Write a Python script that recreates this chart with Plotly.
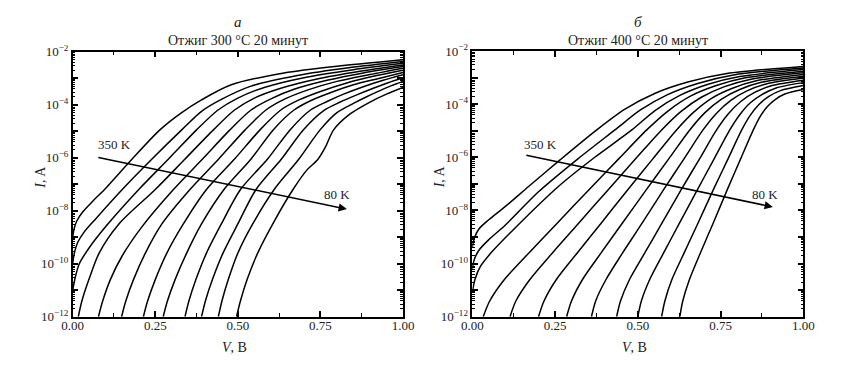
import plotly.graph_objects as go

# ---- data ----
temps = [350, 325, 300, 275, 250, 225, 200, 175, 150, 125, 100, 80]

# panel a: Отжиг 300 °C
a_voltage = [
    [0, 0.004, 0.012, 0.03, 0.06, 0.10, 0.18, 0.264, 0.33, 0.39, 0.48, 0.64, 0.82, 1.0],
    [0, 0.005, 0.015, 0.035, 0.07, 0.15, 0.24, 0.33, 0.39, 0.45, 0.54, 0.68, 0.84, 1.0],
    [0, 0.008, 0.02, 0.05, 0.1, 0.2, 0.29, 0.375, 0.44, 0.50, 0.58, 0.70, 0.85, 1.0],
    [0.017, 0.028, 0.049, 0.08, 0.14, 0.25, 0.34, 0.426, 0.49, 0.55, 0.63, 0.74, 0.87, 1.0],
    [0.078, 0.091, 0.114, 0.15, 0.21, 0.305, 0.393, 0.476, 0.54, 0.60, 0.67, 0.77, 0.88, 1.0],
    [0.148, 0.161, 0.184, 0.22, 0.27, 0.355, 0.442, 0.522, 0.585, 0.64, 0.71, 0.80, 0.90, 1.0],
    [0.214, 0.227, 0.25, 0.285, 0.335, 0.405, 0.49, 0.567, 0.63, 0.685, 0.75, 0.83, 0.91, 1.0],
    [0.274, 0.287, 0.31, 0.345, 0.39, 0.458, 0.54, 0.607, 0.67, 0.72, 0.78, 0.85, 0.93, 1.0],
    [0.34, 0.352, 0.373, 0.405, 0.45, 0.508, 0.59, 0.658, 0.72, 0.77, 0.82, 0.88, 0.94, 1.0],
    [0.39, 0.402, 0.423, 0.455, 0.50, 0.555, 0.632, 0.698, 0.76, 0.81, 0.86, 0.91, 0.955, 1.0],
    [0.441, 0.452, 0.471, 0.50, 0.545, 0.61, 0.685, 0.749, 0.80, 0.85, 0.89, 0.93, 0.965, 1.0],
    [0.496, 0.508, 0.528, 0.56, 0.61, 0.667, 0.71, 0.74, 0.765, 0.79, 0.84, 0.90, 0.95, 1.0],
]
a_log_current = [
    [-9.0, -8.7, -8.4, -8.05, -7.65, -7.15, -6.05, -4.95, -4.3, -3.82, -3.25, -2.8, -2.52, -2.3],
    [-10.0, -9.6, -9.2, -8.8, -8.3, -7.2, -6.05, -4.95, -4.25, -3.8, -3.3, -2.9, -2.6, -2.37],
    [-11.0, -10.5, -10.0, -9.4, -8.6, -7.2, -6.05, -4.95, -4.2, -3.75, -3.35, -2.98, -2.68, -2.44],
    [-12, -11.4, -10.6, -9.6, -8.5, -7.2, -6.05, -4.95, -4.2, -3.75, -3.38, -3.03, -2.74, -2.5],
    [-12, -11.4, -10.6, -9.7, -8.6, -7.2, -6.05, -4.95, -4.2, -3.78, -3.42, -3.08, -2.8, -2.56],
    [-12, -11.4, -10.6, -9.6, -8.5, -7.2, -6.05, -4.95, -4.2, -3.8, -3.45, -3.12, -2.86, -2.62],
    [-12, -11.4, -10.6, -9.6, -8.5, -7.2, -6.05, -4.95, -4.2, -3.82, -3.5, -3.18, -2.93, -2.7],
    [-12, -11.4, -10.6, -9.6, -8.5, -7.2, -6.05, -4.95, -4.2, -3.85, -3.55, -3.25, -3.0, -2.78],
    [-12, -11.4, -10.6, -9.6, -8.5, -7.2, -6.05, -4.95, -4.2, -3.88, -3.6, -3.32, -3.08, -2.87],
    [-12, -11.4, -10.6, -9.6, -8.5, -7.2, -6.05, -4.95, -4.22, -3.9, -3.63, -3.38, -3.17, -2.98],
    [-12, -11.4, -10.6, -9.6, -8.5, -7.2, -6.05, -4.95, -4.3, -3.95, -3.7, -3.47, -3.28, -3.12],
    [-12, -11.4, -10.6, -9.6, -8.4, -7.2, -6.45, -6.1, -5.6, -4.95, -4.35, -3.9, -3.6, -3.35],
]

# panel б: Отжиг 400 °C
b_voltage = [
    [0, 0.006, 0.02, 0.05, 0.1, 0.17, 0.265, 0.376, 0.46, 0.551, 0.651, 0.769, 1.0],
    [0, 0.006, 0.02, 0.05, 0.1, 0.2, 0.32, 0.431, 0.508, 0.59, 0.681, 0.789, 1.0],
    [0, 0.008, 0.025, 0.06, 0.13, 0.26, 0.37, 0.482, 0.552, 0.627, 0.710, 0.808, 1.0],
    [0.033, 0.053, 0.097, 0.171, 0.255, 0.354, 0.443, 0.527, 0.591, 0.659, 0.735, 0.825, 1.0],
    [0.114, 0.132, 0.174, 0.242, 0.32, 0.412, 0.494, 0.572, 0.630, 0.692, 0.760, 0.842, 1.0],
    [0.2, 0.217, 0.254, 0.317, 0.388, 0.471, 0.546, 0.617, 0.669, 0.724, 0.786, 0.858, 1.0],
    [0.285, 0.30, 0.333, 0.389, 0.452, 0.527, 0.594, 0.657, 0.703, 0.753, 0.808, 0.873, 1.0],
    [0.36, 0.373, 0.404, 0.454, 0.512, 0.579, 0.64, 0.697, 0.738, 0.782, 0.830, 0.888, 1.0],
    [0.436, 0.448, 0.475, 0.521, 0.572, 0.632, 0.687, 0.738, 0.773, 0.811, 0.853, 0.903, 1.0],
    [0.50, 0.511, 0.536, 0.578, 0.625, 0.681, 0.731, 0.778, 0.808, 0.840, 0.876, 0.918, 1.0],
    [0.572, 0.582, 0.603, 0.64, 0.681, 0.729, 0.773, 0.814, 0.839, 0.866, 0.896, 0.931, 1.0],
    [0.627, 0.636, 0.656, 0.689, 0.727, 0.771, 0.811, 0.849, 0.869, 0.891, 0.915, 0.944, 1.0],
]
b_log_current = [
    [-9.4, -9.05, -8.7, -8.35, -7.85, -7.1, -6.1, -4.97, -4.2, -3.6, -3.17, -2.85, -2.58],
    [-10.2, -9.85, -9.5, -9.1, -8.55, -7.3, -6.05, -4.97, -4.22, -3.64, -3.22, -2.90, -2.64],
    [-11.1, -10.6, -10.1, -9.55, -8.65, -7.1, -6.0, -4.97, -4.24, -3.67, -3.26, -2.96, -2.70],
    [-12, -11.4, -10.6, -9.6, -8.5, -7.2, -6.05, -4.97, -4.26, -3.70, -3.31, -3.01, -2.76],
    [-12, -11.4, -10.6, -9.6, -8.5, -7.2, -6.05, -4.97, -4.28, -3.74, -3.35, -3.06, -2.82],
    [-12, -11.4, -10.6, -9.6, -8.5, -7.2, -6.05, -4.97, -4.30, -3.77, -3.40, -3.12, -2.88],
    [-12, -11.4, -10.6, -9.6, -8.5, -7.2, -6.05, -4.97, -4.32, -3.81, -3.45, -3.18, -2.95],
    [-12, -11.4, -10.6, -9.6, -8.5, -7.2, -6.05, -4.97, -4.34, -3.85, -3.50, -3.24, -3.02],
    [-12, -11.4, -10.6, -9.6, -8.5, -7.2, -6.05, -4.97, -4.37, -3.90, -3.56, -3.31, -3.10],
    [-12, -11.4, -10.6, -9.6, -8.5, -7.2, -6.05, -4.97, -4.40, -3.95, -3.63, -3.39, -3.19],
    [-12, -11.4, -10.6, -9.6, -8.5, -7.2, -6.05, -4.97, -4.43, -4.01, -3.71, -3.49, -3.30],
    [-12, -11.4, -10.6, -9.6, -8.5, -7.2, -6.05, -4.97, -4.48, -4.10, -3.83, -3.62, -3.45],
]

x_tick_values = [0, 0.25, 0.5, 0.75, 1.0]
x_tick_labels = ["0.00", "0.25", "0.50", "0.75", "1.00"]
y_decades = [-12, -11, -10, -9, -8, -7, -6, -5, -4, -3, -2]
y_tick_labels = ["10<sup>−%d</sup>" % (-e) if e % 2 == 0 else "" for e in y_decades]

panel_letters = ["а", "б"]
panel_titles = ["Отжиг 300 °C 20 минут", "Отжиг 400 °C 20 минут"]
hot_label = "350 K"
cold_label = "80 K"

# ---- figure ----
FONT = "Liberation Serif"
TXT = "#222222"
W, H = 848, 375
OFF = 8  # the page body has an 8px margin; positions below are screen pixels


def px(x):
    return (x - OFF) / W


def py(y):
    return 1 - (y - OFF) / H


fig = go.Figure()
for volts, logs, xa, ya in [(a_voltage, a_log_current, "x", "y"),
                            (b_voltage, b_log_current, "x2", "y2")]:
    for t, v, l in zip(temps, volts, logs):
        fig.add_trace(go.Scatter(
            x=v, y=[10 ** val for val in l], mode="lines", name=f"{t} K",
            line=dict(color="black", width=1.5, shape="spline", smoothing=0.8),
            xaxis=xa, yaxis=ya, showlegend=False, hoverinfo="skip"))

panels = [
    dict(x0=72.7, x1=403.0, y0=51.7, y1=316.7),
    dict(x0=472.3, x1=803.3, y0=51.0, y1=316.7),
]

xaxis_style = dict(range=[0, 1], showline=True, linecolor="black", linewidth=1.5,
                   mirror="ticks", ticks="inside", ticklen=6, tickwidth=1.5,
                   tickcolor="black", showgrid=False, zeroline=False,
                   tickvals=x_tick_values, ticktext=x_tick_labels, automargin=False,
                   ticklabelstandoff=-4,
                   tickfont=dict(family=FONT, size=13, color=TXT),
                   minor=dict(ticks="inside", dtick=0.125, tick0=0, ticklen=4,
                              tickwidth=1, tickcolor="black", showgrid=False))
yaxis_style = dict(type="log", range=[-12, -2], showline=True, linecolor="black",
                   linewidth=1.5, mirror="ticks", ticks="inside", ticklen=6,
                   tickwidth=1.5, tickcolor="black", showgrid=False, zeroline=False,
                   tickvals=[10 ** e for e in y_decades], ticktext=y_tick_labels,
                   automargin=False,
                   tickfont=dict(family=FONT, size=13, color=TXT),
                   minor=dict(ticks="inside", dtick="D1", ticklen=3, tickwidth=1,
                              tickcolor="black", showgrid=False))

layout = dict(width=W, height=H, autosize=False, template="none",
              margin=dict(l=0, r=0, t=0, b=0, pad=0, autoexpand=False),
              paper_bgcolor="white", plot_bgcolor="white", showlegend=False)


def label(text, x, y, size=14, angle=0):
    return dict(text=text, x=px(x), y=py(y), xref="paper", yref="paper",
                xanchor="center", yanchor="middle", textangle=angle,
                showarrow=False, font=dict(family=FONT, size=size, color=TXT))


annotations = []
for i, p in enumerate(panels):
    sx = "" if i == 0 else "2"
    layout["xaxis" + sx] = dict(xaxis_style, domain=[px(p["x0"]), px(p["x1"])],
                                anchor="y" + sx)
    layout["yaxis" + sx] = dict(yaxis_style, domain=[py(p["y1"]), py(p["y0"])],
                                anchor="x" + sx)
    cx = (p["x0"] + p["x1"]) / 2
    annotations += [
        label("<i>%s</i>" % panel_letters[i], cx, 22, size=15),
        label(panel_titles[i], cx, 40, size=14),
        label("<i>V</i>, В", cx - 3, 347, size=14),
        label("<i>I</i>, A", p["x0"] - 33, 177, size=14, angle=-90),
    ]

# temperature labels and arrows
annotations += [
    label(hot_label, 114, 145, size=13),
    label(cold_label, 337, 195, size=13),
    label(hot_label, 540, 145, size=13),
    label(cold_label, 765, 195, size=13),
    dict(text="", x=0.830, y=-7.94, xref="x", yref="y", ax=-250, ay=-52,
         showarrow=True, arrowhead=2, arrowsize=1.1, arrowwidth=1.5,
         arrowcolor="black", standoff=0, startstandoff=0),
    dict(text="", x=0.908, y=-7.87, xref="x2", yref="y2", ax=-248, ay=-52,
         showarrow=True, arrowhead=2, arrowsize=1.1, arrowwidth=1.5,
         arrowcolor="black", standoff=0, startstandoff=0),
]
layout["annotations"] = annotations
fig.update_layout(**layout)

fig.write_html("out.html")
